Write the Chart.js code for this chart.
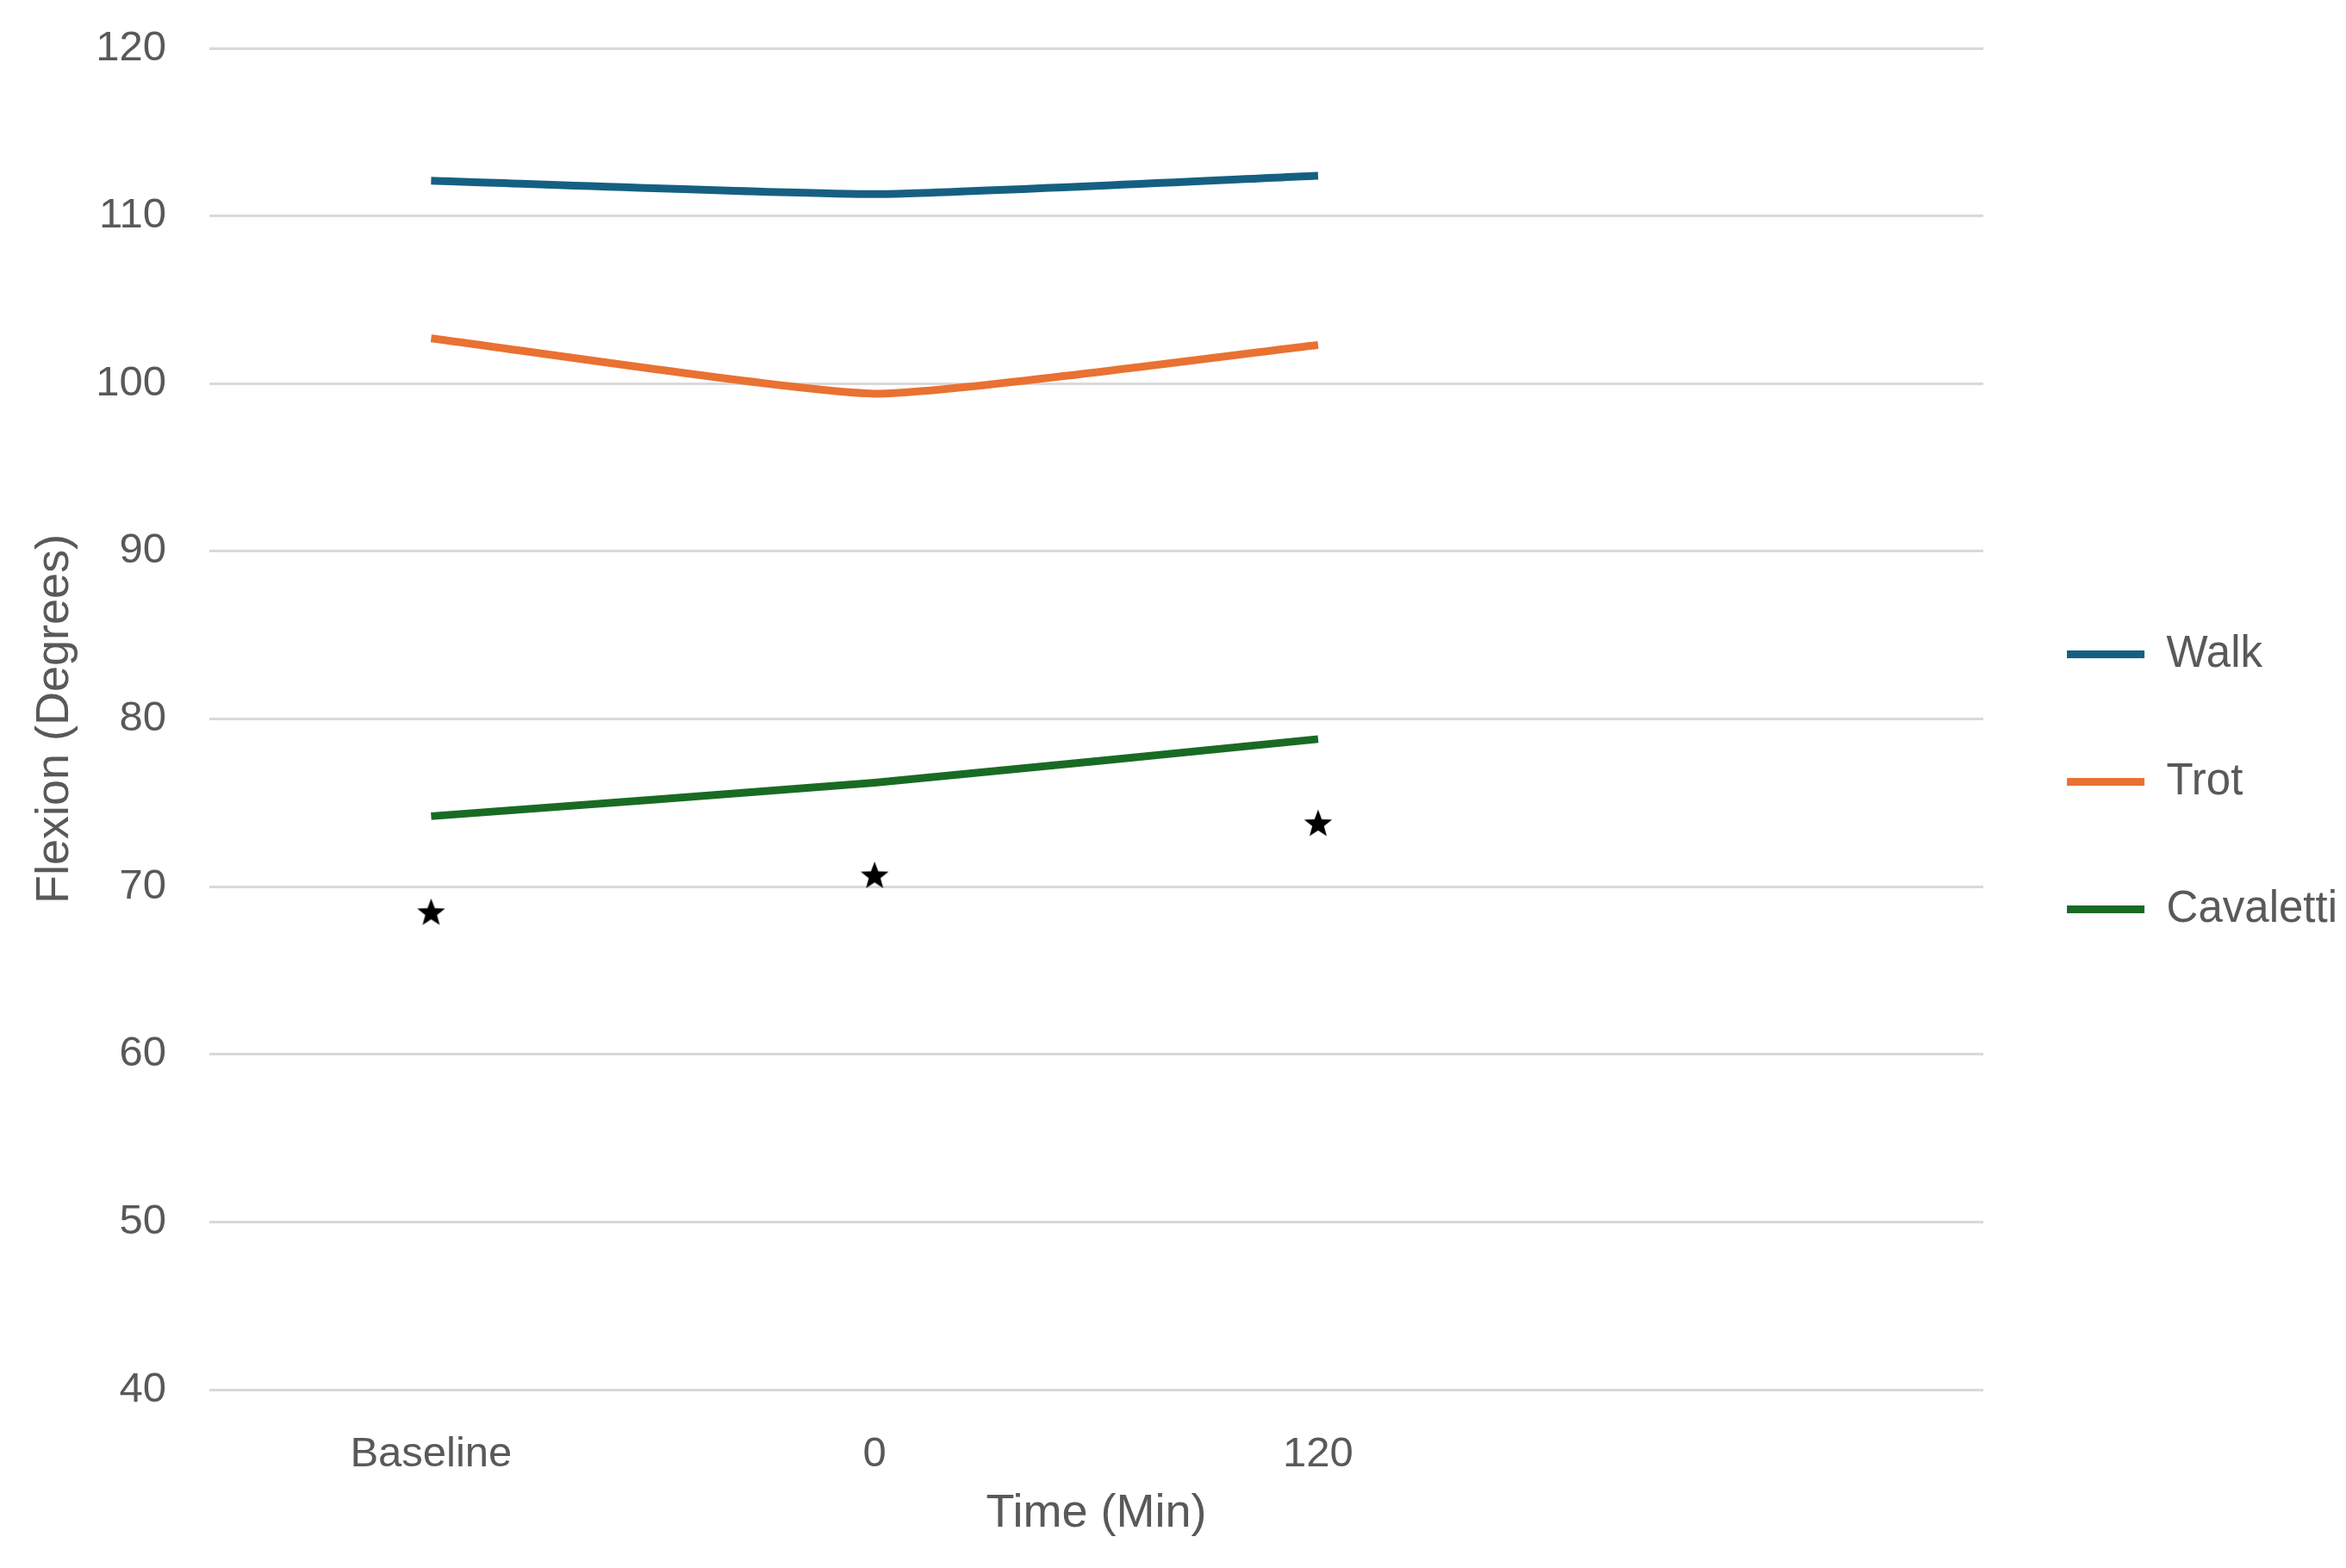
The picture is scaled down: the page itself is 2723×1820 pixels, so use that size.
<!DOCTYPE html>
<html>
<head>
<meta charset="utf-8">
<script src="https://cdn.jsdelivr.net/npm/chart.js@4.4.1/dist/chart.umd.min.js"></script>
<style>
  html, body { margin: 0; padding: 0; background: #fff; }
  #wrap { width: 2723px; height: 1820px; position: relative; }
</style>
</head>
<body>
<div id="wrap"><canvas id="flexChart"></canvas></div>
<script>
// time points (4th slot left empty, like the original sheet)
const timeLabels = ['Baseline', '0', '120', ''];
const walk = [112.1, 111.3, 112.4];
const trot = [102.7, 99.4, 102.3];
const cavaletti = [74.2, 76.2, 78.8];
// significance stars
const starMarks = [68.5, 70.7, 73.8];
const yTicks = [40, 50, 60, 70, 80, 90, 100, 110, 120];

const grey = '#595959';
const fontFam = '"Liberation Sans", Arial, sans-serif';

// little filled star used as point image
function makeStar(size) {
    const c = document.createElement('canvas');
    c.width = size; c.height = size;
    const g = c.getContext('2d');
    const cx = size / 2, cy = size / 2 + 1.5;
    const outer = size / 2, inner = outer * 0.42;
    g.beginPath();
    for (let i = 0; i < 10; i++) {
        const r = i % 2 === 0 ? outer : inner;
        const a = -Math.PI / 2 + i * Math.PI / 5;
        g.lineTo(cx + r * Math.cos(a), cy + r * Math.sin(a));
    }
    g.closePath();
    g.fillStyle = '#000';
    g.fill();
    return c;
}
const star = makeStar(34);

const ctx = document.getElementById('flexChart');

new Chart(ctx, {
    type: 'line',
    data: {
        labels: timeLabels,
        datasets: [
            { label: 'Walk', data: walk, borderColor: '#156082', backgroundColor: '#156082', borderWidth: 9, pointRadius: 0, tension: 0.15 },
            { label: 'Trot', data: trot, borderColor: '#E97132', backgroundColor: '#E97132', borderWidth: 9, pointRadius: 0, tension: 0.15 },
            { label: 'Cavaletti', data: cavaletti, borderColor: '#196B24', backgroundColor: '#196B24', borderWidth: 9, pointRadius: 0, tension: 0.15 },
            { label: 'stars', data: starMarks, showLine: false, pointStyle: star, pointRadius: 17, borderColor: '#000', backgroundColor: '#000' }
        ]
    },
    options: {
        responsive: true,
        maintainAspectRatio: false,
        animation: false,
        layout: { padding: { top: 56, right: 0, bottom: 61, left: 0 } },
        plugins: {
            legend: {
                position: 'right',
                labels: {
                    color: grey,
                    font: { family: fontFam, size: 51 },
                    usePointStyle: true,
                    pointStyle: 'line',
                    pointStyleWidth: 90,
                    padding: 97,
                    filter: (item) => item.text !== 'stars'
                }
            },
            tooltip: { enabled: false }
        },
        scales: {
            x: {
                offset: true,
                grid: { display: false },
                border: { display: false },
                ticks: { color: grey, font: { family: fontFam, size: 49 }, padding: 38 },
                title: { display: true, text: 'Time (Min)', color: grey, font: { family: fontFam, size: 54 }, padding: { top: 0, bottom: -31 } },
                afterFit: (s) => { s.height = 146; }
            },
            y: {
                min: 40,
                max: 120,
                afterBuildTicks: (s) => { s.ticks = yTicks.map(v => ({ value: v })); },
                grid: { color: '#d9d9d9', lineWidth: 3, drawTicks: false },
                border: { display: false },
                ticks: { color: grey, font: { family: fontFam, size: 49 }, padding: 50 },
                title: { display: true, text: 'Flexion (Degrees)', color: grey, font: { family: fontFam, size: 54 }, padding: { top: 32, bottom: 0 } },
                afterFit: (s) => { s.width = 243; s.paddingTop = 20; s.paddingBottom = 20; }
            }
        }
    }
});
</script>
</body>
</html>
